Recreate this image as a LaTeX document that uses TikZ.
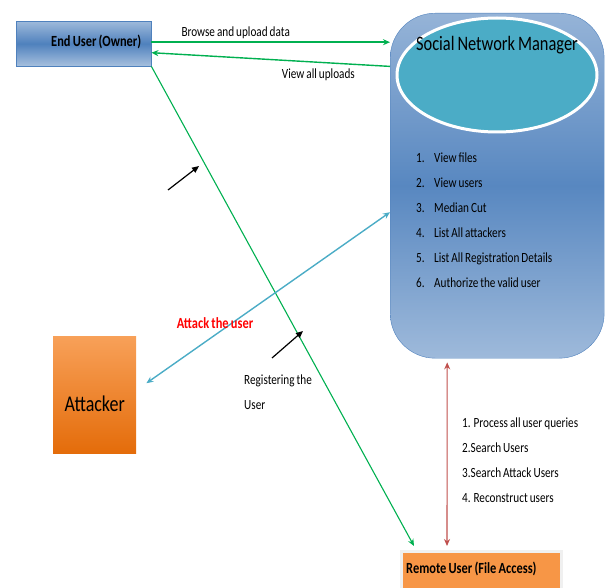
\documentclass[tikz,border=0pt]{standalone}
\usepackage{fontspec}
\setmainfont{Carlito}[FakeStretch=0.8, WordSpace=0.8]
\usepackage{tikz}
\usetikzlibrary{shapes.geometric,arrows.meta,positioning}

\definecolor{flowgreen}{HTML}{00B050}
\definecolor{aqualine}{HTML}{4BACC6}
\definecolor{redline}{HTML}{C0504D}
\definecolor{boxblue}{HTML}{4F81BD}
\definecolor{boxorange}{HTML}{F79646}
\definecolor{deeporange}{HTML}{E46C0A}

\begin{document}
\begin{tikzpicture}[x=1pt, y=-1pt,
  txt/.style = {font=\fontsize{14}{25}\selectfont, inner sep=0pt},
  boldtxt/.style = {font=\fontsize{15.5}{17}\selectfont\bfseries, inner sep=0pt},
  bluebox/.style = {draw=boxblue, top color=boxblue!55!white, bottom color=boxblue!50!white, middle color=boxblue, inner sep=0pt},
  flow/.style = {draw=flowgreen, line width=1.4pt, -{Stealth[length=7pt,width=6pt]}},
  hint/.style = {draw=black, line width=1.2pt, -{Triangle[length=7pt,width=6pt]}}]
\useasboundingbox (0,0) rectangle (605,588);

% boxes
\node[bluebox, anchor=north west, minimum width=135pt, minimum height=45pt,
  label={[boldtxt, anchor=east, xshift=-10pt, yshift=2pt]east:End User (Owner)}] (eu) at (16,21) {};
\node[draw=boxblue, rounded corners=45pt, anchor=north west, minimum width=214pt, minimum height=345pt, top color=boxblue!60!white, bottom color=boxblue!55!white, middle color=boxblue!95!white] (snm) at (390,13) {};
\node[ellipse, fill=aqualine, draw=white, line width=3pt, minimum width=200pt, minimum height=114pt] (ell) at (497,75) {};
\node[font=\fontsize{20.5}{24}\selectfont, inner sep=0pt] (snmtitle) at (497,45) {Social Network Manager};
\node[txt, anchor=north west, align=left] (snmlist) at (416,153) {%
  \makebox[18pt][l]{1.}View files\\
  \makebox[18pt][l]{2.}View users\\
  \makebox[18pt][l]{3.}Median Cut\\
  \makebox[18pt][l]{4.}List All attackers\\
  \makebox[18pt][l]{5.}List All Registration Details\\
  \makebox[18pt][l]{6.}Authorize the valid user};
\node[anchor=north west, minimum width=83pt, minimum height=117pt, inner sep=0pt, top color=boxorange!90!white, bottom color=deeporange,
  label={[yshift=-9pt, font=\fontsize{22.5}{26}\selectfont]center:Attacker}] (att) at (53,336) {};
\node[anchor=north west, minimum width=160pt, minimum height=50pt, fill=boxorange, draw=gray!12, line width=2.5pt,
  label={[boldtxt, anchor=west, xshift=6pt, yshift=7pt]west:Remote User (File Access)}] (ru) at (400,550) {};

% connectors
\draw[flow] ([yshift=1.5pt]eu.east) -- ([yshift=1.5pt]eu.east -| snm.west)
  node[txt, midway, above=3pt, xshift=-35pt] (browse) {Browse and upload data};
\draw[flow] (snm.west |- eu.south) -- ([yshift=-9pt]eu.east)
  node[txt, pos=0.3, below=6pt] (viewup) {View all uploads};
\draw[flow, line width=1.1pt] (eu.south east) -- ([xshift=14pt,yshift=4pt]ru.north west);
\draw[aqualine, line width=1.4pt, {Stealth[length=7pt,width=6pt]}-{Stealth[length=7pt,width=6pt]}] ([yshift=-26.5pt]snm.west) -- ([xshift=10pt,yshift=11.5pt]att.east);
\draw[redline, line width=1.1pt, {Stealth[length=7pt,width=6pt]}-{Stealth[length=7pt,width=6pt]}] ([xshift=-50pt,yshift=-4pt]snm.south) -- ([xshift=47pt,yshift=4pt]ru.north west);

\coordinate (h1s) at (168,190); \coordinate (h1e) at (199,166);
\coordinate (h2s) at (272,358); \coordinate (h2e) at (303,331);
\draw[hint] (h1s) -- (h1e);
\draw[hint] (h2s) -- (h2e);

% labels
\node[boldtxt, text=red] (attlbl) at (215,323) {Attack the user};
\node[txt, anchor=north west, align=left] (reglbl) at (244,375) {Registering the\\User};
\node[txt, anchor=north west, align=left] (rulist) at (462,418) {%
  1. Process all user queries\\
  2.Search Users\\
  3.Search Attack Users\\
  4. Reconstruct users};
\end{tikzpicture}
\end{document}
